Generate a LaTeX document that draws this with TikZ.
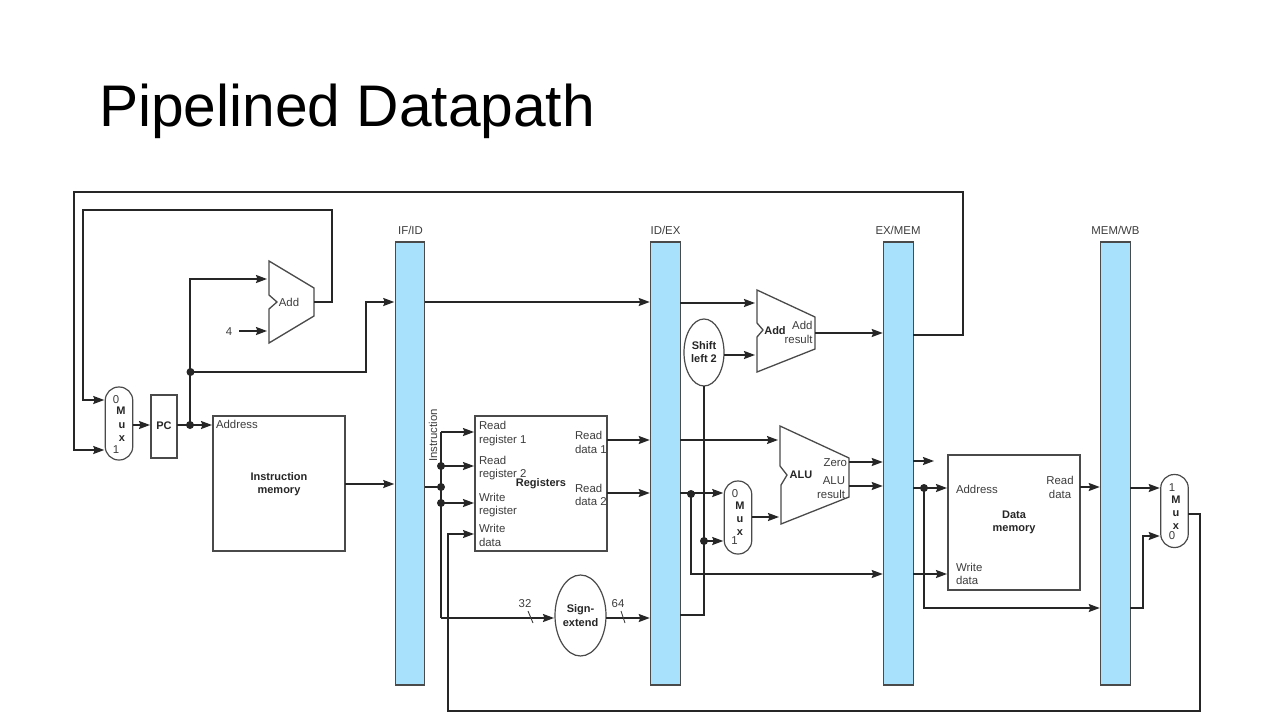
\documentclass[tikz,border=0pt]{standalone}
\usepackage{fontspec}
\setmainfont{Liberation Sans}
\usetikzlibrary{arrows.meta,shapes.geometric}
\definecolor{barblue}{HTML}{A8E1FB}
\definecolor{inkgrey}{HTML}{3C3C3C}
\definecolor{wirek}{HTML}{262626}
\definecolor{edgek}{HTML}{4A4A4A}
\newcommand{\lblfont}{\fontsize{11.4}{13.6}\selectfont}
\newcommand{\bldfont}{\fontsize{11}{13.4}\selectfont\bfseries}
\tikzset{
  every node/.style={inner sep=0pt,outer sep=0pt},
  wire/.style={draw=wirek,line width=1.6pt,line join=miter},
  awire/.style={wire,-{Stealth[length=11pt,width=8pt,inset=1.5pt]},shorten >=1pt},
  bar/.style={draw=edgek,fill=barblue,line width=1.1pt,minimum width=29.5pt,minimum height=443pt},
  box/.style={draw=edgek,line width=1.2pt},
  muxbox/.style={draw=edgek,line width=1.2pt,fill=white,rounded corners=13.5pt,minimum width=27.5pt,minimum height=73pt},
  oval/.style={draw=edgek,line width=1.2pt,shape=ellipse,fill=white},
  alushape/.style={draw=edgek,line width=1.3pt,line join=miter,fill=white},
  lbl/.style={text=inkgrey,font=\lblfont,align=left},
  blbl/.style={text=wirek,font=\bldfont,align=center},
  dot/.style={shape=circle,fill=wirek,minimum size=8pt},
  slash/.style={draw=inkgrey,line width=0.9pt},
}
\begin{document}
\begin{tikzpicture}[x=1pt,y=-1pt]
\useasboundingbox (0,0) rectangle (1280,720);
\node[anchor=base west,text=black,font=\fontsize{58.7}{60}\selectfont] (title) at (99,126) {Pipelined Datapath};

% pipeline registers
\node[bar] (ifid) at (410,463.5) {};
\node[bar] (idex) at (665.5,463.5) {};
\node[bar] (exmem) at (898.5,463.5) {};
\node[bar] (memwb) at (1115.5,463.5) {};
\node[lbl] (ifidl) at (410.5,230) {IF/ID};
\node[lbl] (idexl) at (665.5,230) {ID/EX};
\node[lbl] (exmeml) at (898,230) {EX/MEM};
\node[lbl] (memwbl) at (1115.5,230) {MEM/WB};

% boxes
\node[muxbox] (muxa) at (119,423.5) {};
\node[box,minimum width=26pt,minimum height=63pt] (pc) at (164,426.5) {};
\node[blbl] (pcl) at (164,425.5) {PC};
\node[box,minimum width=132pt,minimum height=135pt] (imem) at (279,483.5) {};
\node[box,minimum width=132pt,minimum height=135pt] (regs) at (541,483.5) {};
\node[box,minimum width=132pt,minimum height=135pt] (dmem) at (1014,522.5) {};
\node[oval,minimum width=51pt,minimum height=81pt] (sign) at (580.5,615.5) {};
\node[oval,minimum width=40pt,minimum height=67pt] (shift) at (704,352.5) {};
\node[muxbox] (muxb) at (738,517.5) {};
\node[muxbox] (muxc) at (1174.5,511) {};

% adders and ALU
\draw[alushape] (269,261) coordinate (addaT) -- (314,288) -- (314,316) -- (269,343) -- (269,309) -- (277,302) -- (269,295) -- cycle;
\draw[alushape] (757,290) -- (815,317) -- (815,349) -- (757,372) -- (757,337) -- (763,330) -- (757,323) -- cycle;
\draw[alushape] (780,426) -- (849,458) -- (849,497) -- (781,524) -- (781,485) -- (787,475) -- (780,466) -- cycle;

% ports
\coordinate (addaIa) at (268,279);
\coordinate (addaIb) at (268,331);
\coordinate (addaO) at (314,302);
\coordinate (addbIa) at (756,303);
\coordinate (addbIb) at (756,355);
\coordinate (addbO) at (815,333);
\coordinate (aluIa) at (779,440);
\coordinate (aluIb) at (780,517);
\coordinate (aluOa) at (849,462);
\coordinate (aluOb) at (849,486);

% junction dots
\node[dot] (ja) at (190,425) {};
\node[dot] (jb) at (190.5,372) {};
\node[dot] (jc) at (441,466) {};
\node[dot] (jd) at (441,487) {};
\node[dot] (je) at (441,503) {};
\node[dot] (jf) at (691,494) {};
\node[dot] (jg) at (704,541) {};
\node[dot] (jh) at (924,488) {};

% IF stage wires
\coordinate (topR) at (963,192);
\coordinate (topL) at (74,192);
\draw[awire] (exmem.east |- 0,335) -| (topR) -- (topL) |- (muxa.west |- 0,450);
\coordinate (loopR) at (332,210);
\coordinate (loopL) at (83,210);
\draw[awire] (addaO) -| (loopR) -- (loopL) |- (muxa.west |- 0,400);
\draw[awire] (muxa.east |- 0,425) -- (pc.west |- 0,425);
\draw[wire] (pc.east |- ja) -- (ja.center);
\draw[awire] (ja.center) -- (imem.west |- ja);
\draw[awire] (ja.center) -- (190,279) -- (addaIa);
\coordinate (ifin) at (366,372);
\draw[awire] (jb.center) -- (ifin) |- (ifid.west |- 0,302);
\node[lbl] (four) at (229,332) {4};
\coordinate (fourO) at (239,331);
\draw[awire] (fourO) -- (addaIb);
\draw[awire] (imem.east |- 0,484) -- (ifid.west |- 0,484);

% ID stage wires
\draw[awire] (ifid.east |- 0,302) -- (idex.west |- 0,302);
\draw[wire] (ifid.east |- jd) -- (jd.center);
\coordinate (instTop) at (441,432);
\coordinate (instBot) at (441,618);
\draw[wire] (instTop) -- (instBot);
\draw[awire] (instTop) -- (regs.west |- instTop);
\draw[awire] (jc.center) -- (regs.west |- jc);
\draw[awire] (je.center) -- (regs.west |- je);
\draw[awire] (instBot) -- (sign.west |- instBot);
\draw[awire] (regs.east |- 0,440) -- (idex.west |- 0,440);
\draw[awire] (regs.east |- 0,493) -- (idex.west |- 0,493);
\draw[awire] (sign.east |- 0,618) -- (idex.west |- 0,618);

% EX stage wires
\draw[awire] (idex.east |- addbIa) -- (addbIa);
\draw[awire] (shift.east |- addbIb) -- (addbIb);
\draw[awire] (addbO) -- (exmem.west |- addbO);
\draw[wire,line width=1.3pt] (idex.east |- 0,615) -| (shift.south);
\draw[awire] (jg.center) -- (muxb.west |- jg);
\draw[awire,line width=1.3pt] (idex.east |- aluIa) -- (aluIa);
\draw[awire] (idex.east |- 0,493) -- (muxb.west |- 0,493);
\draw[awire] (jf.center) |- (exmem.west |- 0,574);
\draw[awire] (muxb.east |- aluIb) -- (aluIb);
\draw[awire] (aluOa) -- (exmem.west |- aluOa);
\draw[awire] (aluOb) -- (exmem.west |- aluOb);

% MEM stage wires
\coordinate (zeroEnd) at (935,461);
\draw[awire] (exmem.east |- zeroEnd) -- (zeroEnd);
\draw[awire] (exmem.east |- 0,488) -- (dmem.west |- 0,488);
\draw[awire] (exmem.east |- 0,574) -- (dmem.west |- 0,574);
\draw[awire,line width=1.3pt] (jh.center) |- (memwb.west |- 0,608);
\draw[awire] (dmem.east |- 0,487) -- (memwb.west |- 0,487);

% WB stage wires
\draw[awire] (memwb.east |- 0,488) -- (muxc.west |- 0,488);
\coordinate (mbk) at (1143,608);
\draw[awire] (memwb.east |- mbk) -- (mbk) |- (muxc.west |- 0,536);
\coordinate (wbR) at (1200,514);
\coordinate (wbB) at (1200,711);
\coordinate (wbL) at (448,711);
\draw[awire,line width=1.4pt] (muxc.east |- wbR) -- (wbR) -- (wbB) -- (wbL) |- (regs.west |- 0,534);

% bus slashes
\coordinate (sa) at (528,611); \coordinate (sb) at (533,623);
\coordinate (sc) at (621,611); \coordinate (sd) at (625,623);
\draw[slash] (sa) -- (sb);
\draw[slash] (sc) -- (sd);

% labels
\node[lbl] (n32) at (525,604) {32};
\node[lbl] (n64) at (618,604) {64};
\node[lbl] (adda) at (289,302) {Add};
\node[lbl,anchor=west] (addr) at (216,424.5) {Address};
\node[blbl] (imeml) at (279,484) {Instruction\\memory};
\node[lbl,rotate=90] (inst) at (433,435.5) {Instruction};
\node[lbl,anchor=west] (rr1) at (479,433.5) {Read\\register 1};
\node[lbl,anchor=west] (rr2) at (479,468) {Read\\register 2};
\node[lbl,anchor=west] (wr) at (479,505) {Write\\register};
\node[lbl,anchor=west] (wd) at (479,535.5) {Write\\data};
\node[blbl] (regl) at (541,483.5) {Registers};
\node[lbl,anchor=west] (rd1) at (575,442.5) {Read\\data 1};
\node[lbl,anchor=west] (rd2) at (575,495) {Read\\data 2};
\node[blbl] (signl) at (580.5,615.5) {Sign-\\extend};
\node[blbl] (shiftl) at (704,352) {Shift\\left 2};
\node[blbl] (addbl) at (775,331) {Add};
\node[lbl,align=right,anchor=east] (addbr) at (812.5,332.5) {Add\\result};
\node[blbl] (alul) at (801,475) {ALU};
\node[lbl,anchor=east] (zero) at (847,463) {Zero};
\node[lbl,align=right,anchor=east] (alur) at (845,487.5) {ALU\\result};
\node[lbl,anchor=west] (daddr) at (956,489) {Address};
\node[lbl,align=center] (drd) at (1060,487.5) {Read\\data};
\node[blbl] (dmeml) at (1014,522.5) {Data\\memory};
\node[lbl,anchor=west] (dwd) at (956,574) {Write\\data};

% mux letters
\node[lbl] (ma0) at (116,400) {0};
\node[blbl] (maM) at (121,411) {M};
\node[blbl] (mau) at (122,426) {u};
\node[blbl] (max) at (122,439) {x};
\node[lbl] (ma1) at (116,450) {1};
\node[lbl] (mb0) at (735,494) {0};
\node[blbl] (mbM) at (740,506) {M};
\node[blbl] (mbu) at (740,520) {u};
\node[blbl] (mbx) at (740,533) {x};
\node[lbl] (mb1) at (734.5,541) {1};
\node[lbl] (mc1) at (1172,488) {1};
\node[blbl] (mcM) at (1176,500) {M};
\node[blbl] (mcu) at (1176,514) {u};
\node[blbl] (mcx) at (1176,527) {x};
\node[lbl] (mc0) at (1172,536) {0};
\end{tikzpicture}
\end{document}
